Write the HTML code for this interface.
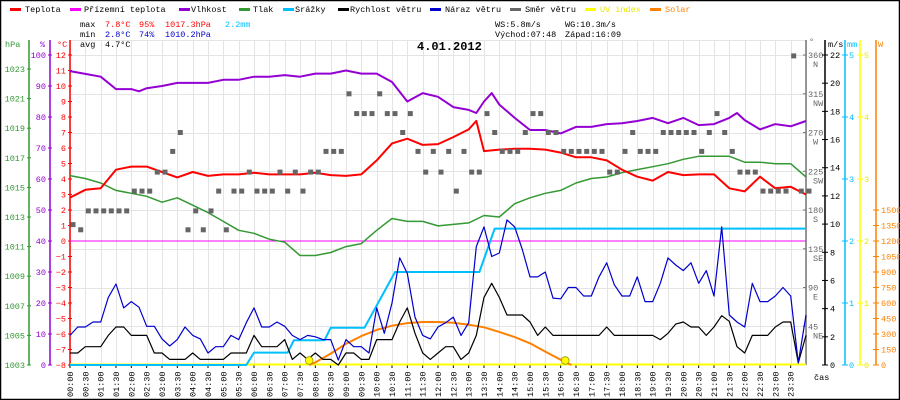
<!DOCTYPE html>
<html><head><meta charset="utf-8"><style>
html,body{margin:0;padding:0;background:#fff}
svg{display:block}
text{font-family:"Liberation Mono",monospace;font-size:8.5px}
</style></head><body>
<svg id="chart" width="900" height="400" viewBox="0 0 900 400" xmlns="http://www.w3.org/2000/svg">
<rect x="0.5" y="0.5" width="899" height="399" fill="#fff" stroke="#000" stroke-width="1.5"/>
<g id="grid"></g>
<g id="legend">
 <rect x="10" y="8" width="11" height="3" fill="#ff0000"/><text x="25" y="12">Teplota</text>
 <rect x="70" y="8" width="11" height="3" fill="#ff00ff"/><text x="84" y="12">Přízemní teplota</text>
 <rect x="179" y="8" width="11" height="3" fill="#9400d3"/><text x="191" y="12">Vlhkost</text>
 <rect x="239" y="8" width="11" height="3" fill="#339933"/><text x="253" y="12">Tlak</text>
 <rect x="283" y="8" width="11" height="3" fill="#00bfff"/><text x="295" y="12">Srážky</text>
 <rect x="338" y="8" width="11" height="3" fill="#000"/><text x="350" y="12">Rychlost větru</text>
 <rect x="430" y="8" width="11" height="3" fill="#0000cc"/><text x="445" y="12">Náraz větru</text>
 <rect x="510" y="8" width="11" height="3" fill="#666"/><text x="525" y="12">Směr větru</text>
 <rect x="585" y="8" width="11" height="3" fill="#ffff00"/><text x="600" y="12" fill="#e8e800">UV index</text>
 <rect x="650" y="8" width="11" height="3" fill="#ff8000"/><text x="665" y="12" fill="#ff8000">Solar</text>
</g>
<g id="stats">
 <text x="80" y="27">max</text>
 <text x="105" y="27" fill="#ff0000">7.8°C</text>
 <text x="139" y="27" fill="#ff0000">95%</text>
 <text x="165" y="27" fill="#ff0000">1017.3hPa</text>
 <text x="225" y="27" fill="#00bfff">2.2mm</text>
 <text x="80" y="37">min</text>
 <text x="105" y="37" fill="#0000cc">2.8°C</text>
 <text x="139" y="37" fill="#0000cc">74%</text>
 <text x="165" y="37" fill="#0000cc">1010.2hPa</text>
 <text x="80" y="47">avg</text>
 <text x="105" y="47">4.7°C</text>
 <text x="495" y="27">WS:5.8m/s</text>
 <text x="565" y="27">WG:10.3m/s</text>
 <text x="495" y="37">Východ:07:48</text>
 <text x="565" y="37">Západ:16:09</text>
 <text x="417" y="50" font-weight="bold" style="font-size:12px">4.01.2012</text>
 <text x="5" y="47" fill="#339933">hPa</text>
 <text x="40" y="47" fill="#9400d3">%</text>
 <text x="57" y="47" fill="#ff0000">°C</text>
 <text x="809" y="44" fill="#666">°</text>
 <text x="828" y="47">m/s</text>
 <text x="847" y="47" fill="#00bfff">mm</text>
 <text x="878" y="47" fill="#ff8000">W</text>
 <text x="814" y="380">čas</text>
</g>
<g id="axes"></g>
<g id="series"></g>
</svg>
<script>
// ---- data ----
var tempTimes = [0,0.5,1,1.5,2,2.5,3,3.5,4,4.5,5,5.5,6,6.5,7,7.5,8,8.5,9,9.5,10,10.5,11,11.5,12,12.5,13,13.25,13.5,14,14.5,15,15.5,16,16.5,17,17.5,18,18.5,19,19.5,20,20.5,21,21.5,22,22.5,23,23.5,24];
var tempValues = [2.8,3.3,3.4,4.6,4.8,4.8,4.45,4.1,4.45,4.2,4.3,4.3,4.4,4.3,4.3,4.3,4.4,4.25,4.2,4.3,5.2,6.3,6.6,6.2,6.25,6.7,7.2,7.75,5.8,5.9,5.95,5.95,5.9,5.7,5.4,5.4,5.2,4.6,4.15,3.9,4.45,4.25,4.3,4.3,3.4,3.2,4.15,3.4,3.5,3.0];
var humTimes = [0,0.5,1,1.5,2,2.25,2.5,3,3.5,4,4.5,5,5.5,6,6.5,7,7.5,8,8.5,9,9.5,10,10.5,11,11.5,12,12.5,13,13.25,13.5,13.75,14,14.5,15,15.5,16,16.5,17,17.5,18,18.5,19,19.5,20,20.5,21,21.5,21.75,22,22.5,23,23.5,24];
var humValues = [94.8,93.9,93,89,89,88.3,89.3,90,91,91,91,92,92,93,93,93.5,93,94,94,95,94,94,91.3,85,87.7,86.5,83.2,82.3,81.3,85,87.7,84,79.7,75.8,75.8,74.7,76.8,76.8,77.7,78,78.7,79.7,78,79.7,77.4,77.7,79.7,81.3,79,76,77.7,77,78.7];
var pressureValues = [1015.8,1015.6,1015.3,1014.8,1014.6,1014.4,1014.0,1014.3,1013.8,1013.3,1012.7,1012.1,1011.9,1011.5,1011.3,1010.4,1010.4,1010.6,1011.0,1011.2,1012.1,1012.9,1012.7,1012.7,1012.4,1012.5,1012.6,1013.1,1013.0,1013.9,1014.3,1014.6,1014.8,1015.3,1015.6,1015.7,1016.0,1016.2,1016.4,1016.6,1016.9,1017.1,1017.1,1017.1,1016.7,1016.7,1016.6,1016.6,1015.7];
var feelsLikeValues = [0,0];
var gustValues = [2.1,2.7,2.7,3.05,3.05,4.8,5.75,4.05,
4.5,4.1,2.75,2.75,1.85,1.35,1.8,2.7,
2.1,1.85,0.85,1.3,1.3,2.1,1.8,3.0,
4.05,2.7,2.7,3.05,2.75,2.1,1.8,2.1,
2.0,1.8,1.8,0.35,1.8,1.3,1.3,0.85,
4.05,2.25,4.4,7.6,6.5,3.4,2.1,1.85,
2.7,3.0,3.4,2.1,3.0,8.4,9.8,7.7,
7.95,10.3,9.8,8.2,6.25,6.25,6.6,4.75,
4.7,5.5,5.5,4.9,4.9,6.25,7.25,5.7,
4.9,4.9,6.25,4.5,4.5,5.8,7.6,7.1,
6.7,7.25,5.8,6.7,4.9,9.8,3.55,3.05,
2.7,5.8,4.5,4.5,4.9,5.5,4.9,0.15,
3.55];
var windValues = [0.85,0.85,1.3,1.3,1.3,2.1,2.7,2.7,
2.1,2.1,2.1,0.85,0.85,0.4,0.4,0.4,
0.85,0.4,0.4,0.4,0.4,0.85,0.85,0.85,
2.1,1.3,1.3,1.3,1.8,0.4,0.85,0.4,
0.85,0.4,0.4,0,0.85,0.85,0.4,0.4,
1.8,1.8,1.8,3.05,4.05,2.25,0.85,0.4,
0.85,1.3,1.3,0.4,0.85,2.1,4.8,5.8,
4.8,3.55,3.55,3.55,3.05,2.1,2.7,2.1,
2.1,2.1,2.1,2.1,2.1,2.1,2.7,2.1,
2.1,2.1,2.1,2.1,2.1,1.8,2.25,2.9,
3.05,2.7,2.7,2.1,2.7,3.5,3.1,1.3,
0.85,2.1,2.1,2.1,2.7,3.05,3.05,0.15,
2.1];
var directionValues = [163,157,179,179,179,179,179,179,
202,202,202,224,224,248,270,157,
179,157,179,202,157,202,202,224,
202,202,202,224,202,224,202,224,
224,248,248,248,315,292,292,292,
315,292,292,270,292,248,224,248,
224,248,202,248,224,224,292,270,
248,248,248,270,292,292,270,270,
248,248,248,248,248,248,224,224,
248,270,248,248,248,270,270,270,
270,270,248,270,292,270,248,224,
224,224,202,202,202,202,359,202,
202];
var rainTimes = [0,5.75,6,7.1,7.3,8.3,8.5,9.6,10.6,13.35,13.85,24];
var rainValues = [0,0,0.2,0.2,0.4,0.4,0.6,0.6,1.5,1.5,2.2,2.2];
var solarTimes = [7.8,8,8.5,9,9.5,10,10.5,11,11.5,12,12.5,13,13.5,14,14.5,15,15.5,16,16.35];
var solarValues = [0,25,110,205,280,340,380,405,416,416,408,390,365,320,270,210,130,50,0];
var sunEventTimes = [7.8,16.15];
var tempTicks = [-8,-7,-6,-5,-4,-3,-2,-1,0,1,2,3,4,5,6,7,8,9,10,11,12];
var humTicks = [0,10,20,30,40,50,60,70,80,90,100];
var pressTicks = [1003,1005,1007,1009,1011,1013,1015,1017,1019,1021,1023];
var dirTicks = [45,90,135,180,225,270,315,360];
var dirNames = ["NE","E","SE","S","SW","W","NW","N"];
var windTicks = [0,2,4,6,8,10,12,14,16,18,20,22];
var rainTicks = [0,1,2,3,4,5];
var solarTicks = [0,150,300,450,600,750,900,1050,1200,1350,1500];

// ---- scales ----
var X0=70, X1=806, YT=40, YB=365;
function xT(h){return X0+(X1-X0)*h/24;}
function yTemp(v){return 241-15.5*v;}
function yHum(v){return 365-3.1*v;}
function yPress(v){return 365-14.8*(v-1003);}
function yWind(v){return 365-v*310/22;}
function yRain(v){return 365-62*v;}
function ySolar(v){return 365-v*310/3000;}
function yDir(v){return 365-v*310/360;}

var NS="http://www.w3.org/2000/svg";
function mk(tag,parent,attrs){var e=document.createElementNS(NS,tag);for(var k in attrs)e.setAttribute(k,attrs[k]);parent.appendChild(e);return e;}
var grid=document.getElementById('grid'),axes=document.getElementById('axes'),ser=document.getElementById('series');

for(var i=0;i<=48;i++){
  var gx=Math.round(xT(i/2))+0.5;
  var gl=mk('line',grid,{x1:gx,y1:YT,x2:gx,y2:YB,stroke:'#e4e4e4','stroke-width':1});
  
  
}
var hl=mk('line',grid,{x1:X0,y1:YT+0.5,x2:X1,y2:YT+0.5,stroke:'#e4e4e4'});


dirTicks.forEach(function(d){
  var gy=Math.round(yDir(d))+0.5;
  var g=mk('line',grid,{x1:X0,y1:gy,x2:X1,y2:gy,stroke:'#e4e4e4'});
  
  
});

function vaxis(x,color,name,w){
  var l=mk('line',axes,{x1:x,y1:YT,x2:x,y2:YB,stroke:color,'stroke-width':w||1.5});
  
  
}
function tickLabel(x,y,txt,color,anchor,name){
  var t=mk('text',axes,{x:x,y:y,fill:color,'text-anchor':anchor});
  t.textContent=txt;
  
  
}
function tickMark(x1,x2,y,color){
  var t=mk('line',axes,{x1:x1,y1:y,x2:x2,y2:y,stroke:color,'stroke-width':1});
  
  
}
vaxis(29,'#339933','pressure-axis');
vaxis(50,'#9400d3','humidity-axis');
vaxis(70,'#ff0000','temperature-axis');
vaxis(806,'#777','direction-axis');
vaxis(825,'#000','wind-axis');
vaxis(845,'#00bfff','rain-axis');
vaxis(860,'#ffff00','uv-axis');
vaxis(876,'#ff8000','solar-axis');
pressTicks.forEach(function(v){var y=yPress(v);tickMark(27,31,y,'#339933');tickLabel(25,y+3,String(v),'#339933','end','pressure-tick-label');});
humTicks.forEach(function(v){var y=yHum(v);tickMark(48,52,y,'#9400d3');tickLabel(46,y+3,String(v),'#9400d3','end','humidity-tick-label');});
tempTicks.forEach(function(v){var y=yTemp(v);tickMark(68,72,y,'#ff0000');tickLabel(66,y+3,v<0?'−'+(-v):String(v),'#ff0000','end','temperature-tick-label');});
dirTicks.forEach(function(v,i){var y=yDir(v);tickMark(803,806,y,'#777');tickLabel(808,y+3,String(v),'#666','start','direction-tick-label');tickLabel(813,y+12,dirNames[i],'#666','start','direction-name-label');});
windTicks.forEach(function(v){var y=yWind(v);tickMark(822,828,y,'#000');tickLabel(830,y+3,String(v),'#000','start','wind-tick-label');});
rainTicks.forEach(function(v){var y=yRain(v);tickMark(842,848,y,'#00bfff');tickLabel(849,y+3,String(v),'#00bfff','start','rain-tick-label');tickMark(857,863,y,'#ffff00');tickLabel(864,y+3,String(v),'#e8e800','start','uv-tick-label');});
solarTicks.forEach(function(v){var y=ySolar(v);tickMark(873,879,y,'#ff8000');tickLabel(881,y+3,String(v),'#ff8000','start','solar-tick-label');});
for(var i=0;i<48;i++){
  var tx=xT(i/2);
  var tk=mk('line',axes,{x1:tx,y1:YB,x2:tx,y2:YB+3,stroke:'#000'});
  
  
  var hh=Math.floor(i/2),mm=(i%2)?'30':'00';
  var lab=(hh<10?'0':'')+hh+':'+mm;
  var t=mk('text',axes,{x:0,y:0,transform:'translate('+(tx+3)+',397) rotate(-90)'});
  t.textContent=lab;
  
  
}

function path(times,vals,ys,color,w,name){
  var d='';
  for(var i=0;i<vals.length;i++){d+=(i?'L':'M')+xT(times[i]).toFixed(1)+','+ys(vals[i]).toFixed(1);}
  var p=mk('path',ser,{d:d,fill:'none',stroke:color,'stroke-width':w,'stroke-linejoin':'round'});
  
  
}
var half=[];for(var i=0;i<=48;i++)half.push(i/2);
var quarter=[];for(var i=0;i<=96;i++)quarter.push(i/4);

var uv=mk('line',ser,{x1:X0,y1:364.5,x2:X1,y2:364.5,stroke:'#ffff00','stroke-width':2});


path([0,24],feelsLikeValues,yTemp,'#ff00ff',1,'feels-like-line');
path(solarTimes,solarValues,ySolar,'#ff8000',2,'solar-line');
path(rainTimes,rainValues,yRain,'#00bfff',2,'rain-line');
path(quarter,windValues,yWind,'#000',1.2,'wind-speed-line');
path(quarter,gustValues,yWind,'#0000cc',1.2,'gust-line');
path(half,pressureValues,yPress,'#339933',1.5,'pressure-line');
path(humTimes,humValues,yHum,'#9400d3',2,'humidity-line');
path(tempTimes,tempValues,yTemp,'#ff0000',2,'temperature-line');
directionValues.forEach(function(d,i){
  var r=mk('rect',ser,{x:(xT(quarter[i])+0.5).toFixed(1),y:(yDir(d)-2.5).toFixed(1),width:5,height:5,fill:'#666'});
  
  
});
sunEventTimes.forEach(function(t){
  var c=mk('circle',ser,{cx:xT(t),cy:360.5,r:3.8,fill:'#ffff00',stroke:'#999900','stroke-width':0.8});
  
  
});
</script>
</body></html>
